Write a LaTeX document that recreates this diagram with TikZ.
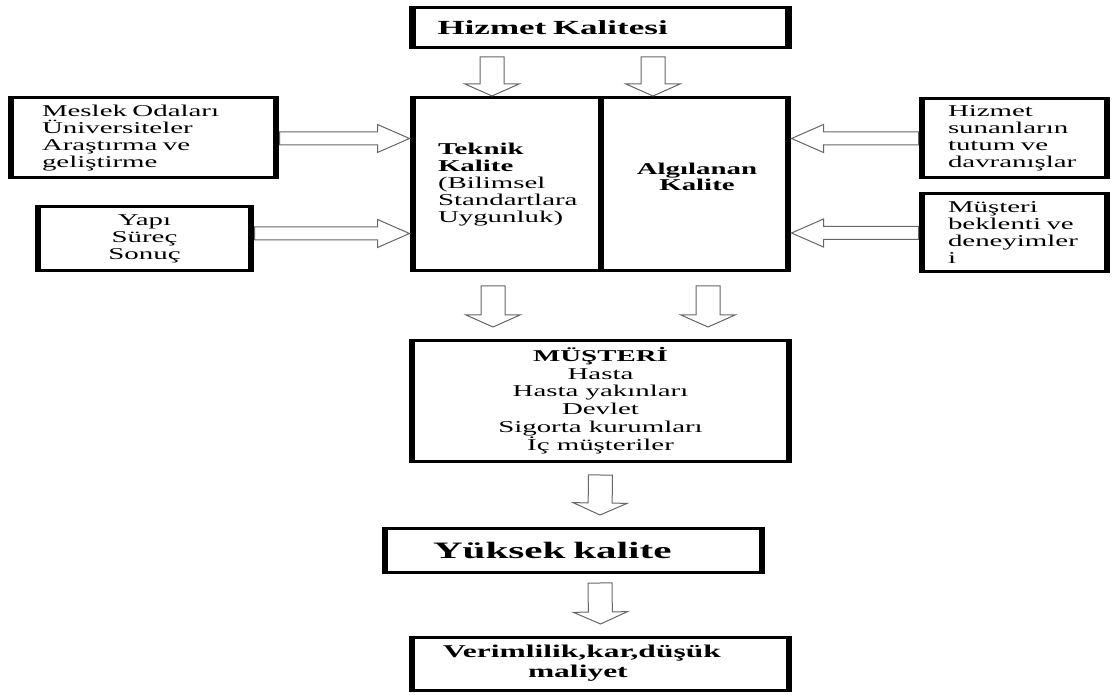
\documentclass[tikz,border=0pt]{standalone}
\usepackage{fontspec}
\setmainfont{Liberation Serif}[FakeStretch=1.75]
\usepackage{tikz}
\usetikzlibrary{calc}
\hyphenpenalty=10000
\exhyphenpenalty=10000
\newcommand{\bodyfont}{\fontsize{16.5}{17}\selectfont}

\begin{document}
\begin{tikzpicture}[
    x=1pt, y=-1pt,
    box/.style={draw, line width=3pt, inner sep=0pt, outer sep=0pt, font=\bodyfont,
                append after command={(\tikzlastnode.north west) edge[thickside] (\tikzlastnode.south west)
                                      (\tikzlastnode.north east) edge[thickside] (\tikzlastnode.south east)}},
    thickside/.style={line width=6.5pt, shorten <=-1.5pt, shorten >=-1.5pt},
    hollow/.style n args={3}{draw=black!60, line width=1pt, fill=white,
      to path={($(\tikztostart)!#1!90:(\tikztotarget)$)
        -- ($(\tikztotarget)!#3!(\tikztostart)!#1!90:(\tikztotarget)$)
        -- ($(\tikztotarget)!#3!(\tikztostart)!#2!90:(\tikztotarget)$)
        -- (\tikztotarget)
        -- ($(\tikztotarget)!#3!(\tikztostart)!#2!-90:(\tikztotarget)$)
        -- ($(\tikztotarget)!#3!(\tikztostart)!#1!-90:(\tikztotarget)$)
        -- ($(\tikztostart)!#1!-90:(\tikztotarget)$) -- cycle}},
    downarrow/.style={hollow={12pt}{27pt}{12pt}},
    sidearrow/.style={hollow={6.5pt}{14pt}{32pt}}
]
\useasboundingbox (0,0) rectangle (1112,695);

% --- top ---
\node[box, text width=326pt, inner xsep=25pt, minimum height=40pt, align=left,
      font=\bfseries\fontsize{20}{22}\selectfont] (hk) at (600.5,28) {Hizmet Kalitesi};

% --- middle block ---
\node[box, text width=138pt, inner xsep=25pt, minimum height=173pt, align=left] (tek) at (507,184.5)
  {\textbf{Teknik}\\\textbf{Kalite}\\(Bilimsel\\Standartlara\\Uygunluk)};
\node[box, minimum width=187pt, minimum height=173pt] (alg) at (694.5,184.5) {};
\node[align=center, font=\bfseries\fontsize{16.5}{13}\selectfont] (algtext) at (697,177) {Algılanan\\Kalite};

% --- left inputs ---
\node[box, text width=203pt, inner xsep=31pt, minimum height=80pt, align=left] (mesl) at (143.5,138)
  {Meslek Odaları\\Üniversiteler\\Araştırma ve\\geliştirme};
\node[box, minimum width=213pt, minimum height=64pt, align=center] (yapi) at (144.5,239)
  {Yapı\\Süreç\\Sonuç};

% --- right inputs ---
\node[box, text width=133pt, inner xsep=26pt, minimum height=79pt, align=left] (tutum) at (1014.5,138.5)
  {Hizmet\\sunanların\\tutum ve\\davranışlar};
\node[box, text width=133pt, inner xsep=26pt, minimum height=78pt, align=left] (bekl) at (1014.5,233)
  {Müşteri\\beklenti ve\\deneyimler\\i};

% --- customer and results ---
\node[box, minimum width=377pt, minimum height=121pt, align=center, font=\fontsize{16.5}{17.8}\selectfont] (mus) at (600.5,400.5)
  {\textbf{MÜŞTERİ}\\Hasta\\Hasta yakınları\\Devlet\\Sigorta kurumları\\İç müşteriler};
\node[box, text width=281pt, inner xsep=48pt, minimum height=44pt, align=left,
      font=\bfseries\fontsize{23.5}{26}\selectfont] (yuk) at (573.5,550) {Yüksek kalite};
\node[box, text width=315pt, inner xsep=31pt, minimum height=53pt, align=left,
      font=\bfseries\fontsize{18}{20}\selectfont] (ver) at (600.5,663.5) {Verimlilik,kar,düşük\\\hspace*{85pt}maliyet};

% --- arrows ---
\draw[downarrow] ($(hk.south)+(-108.5,9)$) to ($(tek.north)+(-15,-2)$);
\draw[downarrow] ($(hk.south)+(52.5,9)$) to ($(alg.north)+(-41.5,-2)$);
\draw[sidearrow] ($(mesl.east)+(3.5,0.5)$) to ($(tek.west)+(-3.5,-46)$);
\draw[sidearrow] ($(yapi.east)+(3.5,-5.5)$) to ($(tek.west)+(-3.5,49)$);
\draw[sidearrow] ($(tutum.west)+(-3.5,0)$) to ($(alg.east)+(3.5,-46)$);
\draw[sidearrow] ($(bekl.west)+(-3.5,0)$) to ($(alg.east)+(3.5,48.5)$);
\draw[downarrow] ($(tek.south)+(-14,15)$) to ($(mus.north)+(-107.5,-13)$);
\draw[downarrow] ($(alg.south)+(13.5,15)$) to ($(mus.north)+(107.5,-13)$);
\draw[downarrow] ($(mus.south)+(0,14)$) to ($(yuk.north)+(26.5,-13)$);
\draw[downarrow] ($(yuk.south)+(26.5,11)$) to ($(ver.north)+(0,-13)$);

\end{tikzpicture}
\end{document}
